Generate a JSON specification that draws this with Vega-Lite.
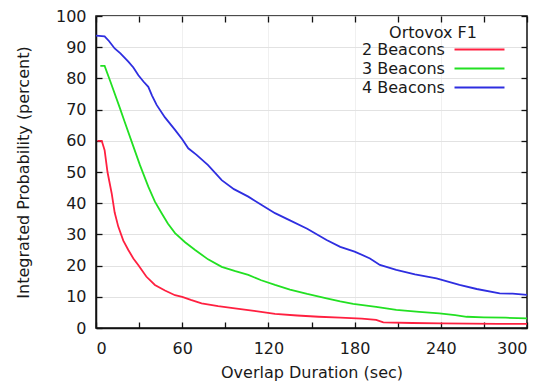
{
  "$schema": "https://vega.github.io/schema/vega-lite/v6.json",
  "width": 431,
  "height": 312,
  "autosize": {"type": "none"},
  "padding": {"left": 96, "top": 16, "right": 22, "bottom": 59},
  "background": "white",
  "config": {
    "font": "DejaVu Sans",
    "view": {"stroke": "#111111", "strokeWidth": 1.5},
    "axis": {
      "domainColor": "#111111",
      "domainWidth": 1.5,
      "tickColor": "#111111",
      "tickWidth": 1.3,
      "tickSize": -6,
      "labelFontSize": 16,
      "labelColor": "#1a1a1a",
      "titleFontSize": 16,
      "titleFontWeight": "normal",
      "titleColor": "#1a1a1a",
      "gridColor": "#e2e2e2",
      "gridWidth": 1
    }
  },
  "datasets": {
    "curves": [
      {"t": 1, "p": 60, "s": "2 Beacons"},
      {"t": 4, "p": 60, "s": "2 Beacons"},
      {"t": 6, "p": 57, "s": "2 Beacons"},
      {"t": 8, "p": 50, "s": "2 Beacons"},
      {"t": 10.9, "p": 43.2, "s": "2 Beacons"},
      {"t": 13, "p": 37, "s": "2 Beacons"},
      {"t": 15.5, "p": 32.5, "s": "2 Beacons"},
      {"t": 19, "p": 28, "s": "2 Beacons"},
      {"t": 22.5, "p": 25, "s": "2 Beacons"},
      {"t": 26, "p": 22.3, "s": "2 Beacons"},
      {"t": 29.4, "p": 20.2, "s": "2 Beacons"},
      {"t": 35, "p": 16.5, "s": "2 Beacons"},
      {"t": 41, "p": 13.8, "s": "2 Beacons"},
      {"t": 48, "p": 12, "s": "2 Beacons"},
      {"t": 55, "p": 10.5, "s": "2 Beacons"},
      {"t": 60, "p": 10, "s": "2 Beacons"},
      {"t": 66, "p": 9, "s": "2 Beacons"},
      {"t": 73.5, "p": 7.9, "s": "2 Beacons"},
      {"t": 85, "p": 7, "s": "2 Beacons"},
      {"t": 96.7, "p": 6.3, "s": "2 Beacons"},
      {"t": 110, "p": 5.5, "s": "2 Beacons"},
      {"t": 124.6, "p": 4.5, "s": "2 Beacons"},
      {"t": 140, "p": 4, "s": "2 Beacons"},
      {"t": 155, "p": 3.6, "s": "2 Beacons"},
      {"t": 170, "p": 3.3, "s": "2 Beacons"},
      {"t": 185, "p": 3.0, "s": "2 Beacons"},
      {"t": 195, "p": 2.6, "s": "2 Beacons"},
      {"t": 200, "p": 1.8, "s": "2 Beacons"},
      {"t": 220, "p": 1.6, "s": "2 Beacons"},
      {"t": 240, "p": 1.5, "s": "2 Beacons"},
      {"t": 260, "p": 1.4, "s": "2 Beacons"},
      {"t": 280, "p": 1.3, "s": "2 Beacons"},
      {"t": 300, "p": 1.3, "s": "2 Beacons"},

      {"t": 3, "p": 84, "s": "3 Beacons"},
      {"t": 6, "p": 84, "s": "3 Beacons"},
      {"t": 10, "p": 79, "s": "3 Beacons"},
      {"t": 16.7, "p": 70.4, "s": "3 Beacons"},
      {"t": 20, "p": 66, "s": "3 Beacons"},
      {"t": 25, "p": 59.5, "s": "3 Beacons"},
      {"t": 30.6, "p": 52.2, "s": "3 Beacons"},
      {"t": 36.4, "p": 45.3, "s": "3 Beacons"},
      {"t": 41, "p": 40.5, "s": "3 Beacons"},
      {"t": 45.7, "p": 36.8, "s": "3 Beacons"},
      {"t": 50, "p": 33.5, "s": "3 Beacons"},
      {"t": 55, "p": 30.4, "s": "3 Beacons"},
      {"t": 62, "p": 27.5, "s": "3 Beacons"},
      {"t": 69, "p": 25, "s": "3 Beacons"},
      {"t": 78, "p": 22, "s": "3 Beacons"},
      {"t": 87.5, "p": 19.6, "s": "3 Beacons"},
      {"t": 97, "p": 18.2, "s": "3 Beacons"},
      {"t": 106, "p": 17, "s": "3 Beacons"},
      {"t": 115, "p": 15.3, "s": "3 Beacons"},
      {"t": 124.6, "p": 13.8, "s": "3 Beacons"},
      {"t": 135, "p": 12.3, "s": "3 Beacons"},
      {"t": 147, "p": 10.9, "s": "3 Beacons"},
      {"t": 160.5, "p": 9.5, "s": "3 Beacons"},
      {"t": 170, "p": 8.5, "s": "3 Beacons"},
      {"t": 179, "p": 7.7, "s": "3 Beacons"},
      {"t": 195, "p": 6.8, "s": "3 Beacons"},
      {"t": 209, "p": 5.8, "s": "3 Beacons"},
      {"t": 225, "p": 5.2, "s": "3 Beacons"},
      {"t": 239, "p": 4.7, "s": "3 Beacons"},
      {"t": 250, "p": 4.1, "s": "3 Beacons"},
      {"t": 258, "p": 3.6, "s": "3 Beacons"},
      {"t": 270, "p": 3.4, "s": "3 Beacons"},
      {"t": 285, "p": 3.3, "s": "3 Beacons"},
      {"t": 300, "p": 3.1, "s": "3 Beacons"},

      {"t": 0, "p": 93.7, "s": "4 Beacons"},
      {"t": 6, "p": 93.5, "s": "4 Beacons"},
      {"t": 9, "p": 92, "s": "4 Beacons"},
      {"t": 13, "p": 89.6, "s": "4 Beacons"},
      {"t": 17, "p": 88, "s": "4 Beacons"},
      {"t": 22.5, "p": 85.4, "s": "4 Beacons"},
      {"t": 26, "p": 83.5, "s": "4 Beacons"},
      {"t": 29.5, "p": 81, "s": "4 Beacons"},
      {"t": 33, "p": 79, "s": "4 Beacons"},
      {"t": 36.4, "p": 77.3, "s": "4 Beacons"},
      {"t": 39, "p": 74.5, "s": "4 Beacons"},
      {"t": 42.2, "p": 71.5, "s": "4 Beacons"},
      {"t": 48, "p": 67.5, "s": "4 Beacons"},
      {"t": 55, "p": 63.5, "s": "4 Beacons"},
      {"t": 60, "p": 60.5, "s": "4 Beacons"},
      {"t": 64.2, "p": 57.6, "s": "4 Beacons"},
      {"t": 70, "p": 55.5, "s": "4 Beacons"},
      {"t": 78, "p": 52.2, "s": "4 Beacons"},
      {"t": 87.5, "p": 47.4, "s": "4 Beacons"},
      {"t": 96, "p": 44.5, "s": "4 Beacons"},
      {"t": 106, "p": 42.1, "s": "4 Beacons"},
      {"t": 115.3, "p": 39.4, "s": "4 Beacons"},
      {"t": 124.6, "p": 36.8, "s": "4 Beacons"},
      {"t": 135, "p": 34.5, "s": "4 Beacons"},
      {"t": 147, "p": 31.8, "s": "4 Beacons"},
      {"t": 160.5, "p": 28.2, "s": "4 Beacons"},
      {"t": 170, "p": 26, "s": "4 Beacons"},
      {"t": 180, "p": 24.5, "s": "4 Beacons"},
      {"t": 190.7, "p": 22.3, "s": "4 Beacons"},
      {"t": 197.6, "p": 20.2, "s": "4 Beacons"},
      {"t": 209, "p": 18.6, "s": "4 Beacons"},
      {"t": 222, "p": 17.2, "s": "4 Beacons"},
      {"t": 237, "p": 15.9, "s": "4 Beacons"},
      {"t": 253, "p": 13.8, "s": "4 Beacons"},
      {"t": 265, "p": 12.5, "s": "4 Beacons"},
      {"t": 281, "p": 11.1, "s": "4 Beacons"},
      {"t": 290, "p": 11, "s": "4 Beacons"},
      {"t": 300, "p": 10.6, "s": "4 Beacons"}
    ]
  },
  "data": {"name": "curves"},
  "layer": [
    {
      "mark": {"type": "line", "strokeWidth": 1.8},
      "encoding": {
        "x": {
          "field": "t", "type": "quantitative",
          "scale": {"domain": [0, 300], "nice": false, "zero": false},
          "axis": {
            "orient": "bottom",
            "title": "Overlap Duration (sec)",
            "values": [0, 30, 60, 90, 120, 150, 180, 210, 240, 270, 300],
            "labelExpr": "datum.value % 60 == 0 ? datum.label : ''",
            "labelPadding": 18,
            "titlePadding": 8,
            "grid": true,
            "gridOpacity": {"condition": {"test": "datum.value % 60 == 0 && datum.value > 0 && datum.value < 300", "value": 0.5}, "value": 0}
          }
        },
        "y": {
          "field": "p", "type": "quantitative",
          "scale": {"domain": [0, 100], "nice": false},
          "axis": {
            "orient": "left",
            "title": "Integrated Probability (percent)",
            "values": [0, 10, 20, 30, 40, 50, 60, 70, 80, 90, 100],
            "labelPadding": 16,
            "titlePadding": 24,
            "grid": true
          }
        },
        "color": {
          "field": "s", "type": "nominal",
          "scale": {"domain": ["2 Beacons", "3 Beacons", "4 Beacons"], "range": ["#ff2040", "#22e022", "#2e2ee0"]},
          "legend": {
            "orient": "none",
            "legendX": 261,
            "legendY": 9,
            "padding": 0,
            "title": "Ortovox F1",
            "titleFontSize": 16,
            "titleFontWeight": "normal",
            "titleColor": "#1a1a1a",
            "titleAnchor": "middle",
            "titlePadding": -2,
            "labelFontSize": 16,
            "labelColor": "#1a1a1a",
            "labelAlign": "left",
            "labelOffset": -128,
            "labelLimit": 0,
            "symbolType": "M-2.63,0H2.63",
            "symbolSize": 361,
            "symbolStrokeWidth": 1.8,
            "symbolOffset": 112,
            "rowPadding": 0
          }
        }
      }
    },
    {
      "mark": {"type": "point", "opacity": 0},
      "encoding": {
        "x": {
          "field": "t", "type": "quantitative",
          "scale": {"domain": [0, 300], "nice": false, "zero": false},
          "axis": {"orient": "top", "title": null, "labels": false, "domain": false, "tickSize": 6, "offset": -6, "values": [0, 30, 60, 90, 120, 150, 180, 210, 240, 270, 300]}
        },
        "y": {
          "field": "p", "type": "quantitative",
          "scale": {"domain": [0, 100], "nice": false},
          "axis": {"orient": "right", "title": null, "labels": false, "domain": false, "tickSize": 6, "offset": -6, "values": [0, 10, 20, 30, 40, 50, 60, 70, 80, 90, 100]}
        }
      }
    }
  ],
  "resolve": {"scale": {"x": "independent", "y": "independent"}, "axis": {"x": "independent", "y": "independent"}}
}
